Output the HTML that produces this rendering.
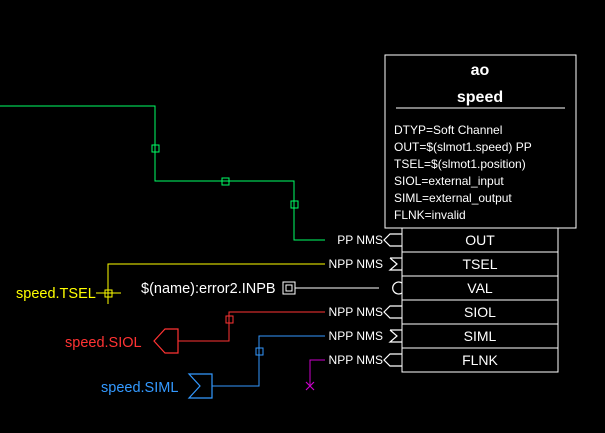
<!DOCTYPE html><html><head><style>body{margin:0;background:#000}svg{display:block}text{font-family:"Liberation Sans",sans-serif}</style></head><body>
<svg width="605" height="433" viewBox="0 0 605 433" xmlns="http://www.w3.org/2000/svg">
<rect width="605" height="433" fill="#000"/>
<g fill="none" stroke-width="1.2" shape-rendering="crispEdges">
<polyline stroke="#00ff66" points="0,106 155,106 155,181 294,181 294,240 325,240"/>
<rect stroke="#00ff66" x="152" y="145" width="7" height="7"/>
<rect stroke="#00ff66" x="222" y="178" width="7" height="7"/>
<rect stroke="#00ff66" x="291" y="201" width="7" height="7"/>
<polyline stroke="#ffff00" points="325,264 108,264 108,304"/>
<line stroke="#ffff00" x1="96" y1="293" x2="121" y2="293"/>
<rect stroke="#ffff00" x="105" y="290" width="7" height="7"/>
<line stroke="#fff" x1="295" y1="288" x2="379" y2="288"/>
<rect stroke="#fff" x="283" y="282" width="12" height="12"/>
<rect stroke="#fff" x="286" y="285" width="6" height="6"/>
<polyline stroke="#ff3333" points="325,312 229,312 229,341 178,341"/>
<rect stroke="#ff3333" x="226" y="316" width="7" height="7"/>
<polyline stroke="#3399ff" points="325,336 259,336 259,386 212,386"/>
<rect stroke="#3399ff" x="256" y="348" width="7" height="7"/>
<polyline stroke="#cc00cc" points="325,360 310,360 310,386"/>
<g stroke="#fff">
<rect x="385" y="55" width="191" height="173"/>
<line x1="396" y1="108" x2="565" y2="108"/>
<rect x="402" y="228" width="156" height="144"/>
<line x1="402" y1="252" x2="558" y2="252"/>
<line x1="402" y1="276" x2="558" y2="276"/>
<line x1="402" y1="300" x2="558" y2="300"/>
<line x1="402" y1="324" x2="558" y2="324"/>
<line x1="402" y1="348" x2="558" y2="348"/>
</g></g>
<g fill="none" stroke-width="1.2">
<polygon stroke="#ff3333" points="178,329 165,329 154,341 165,353 178,353"/>
<polygon stroke="#3399ff" points="189,374 212,374 212,398 189,398 200,386"/>
<path stroke="#cc00cc" d="M306,382 L314,390 M314,382 L306,390"/>
<g stroke="#fff">
<polyline points="402,234 390,234 384,240 390,246 402,246"/>
<polyline points="390,258 402,258"/>
<polyline points="390,258 397,264 390,270 402,270"/>
<path d="M402,283 A6,6 0 1 0 402,293"/>
<polyline points="402,306 390,306 384,312 390,318 402,318"/>
<polyline points="390,330 402,330"/>
<polyline points="390,330 397,336 390,342 402,342"/>
<polyline points="402,354 390,354 384,360 390,366 402,366"/>
</g></g>
<g fill="#fff">
<text x="480" y="75" text-anchor="middle" style="font-size:16px;font-weight:bold">ao</text>
<text x="480" y="102" text-anchor="middle" style="font-size:16px;font-weight:bold">speed</text>
<g style="font-size:12px"><text x="394" y="134">DTYP=Soft Channel</text>
<text x="394" y="151">OUT=$(slmot1.speed) PP</text>
<text x="394" y="168">TSEL=$(slmot1.position)</text>
<text x="394" y="185">SIOL=external_input</text>
<text x="394" y="202">SIML=external_output</text>
<text x="394" y="219">FLNK=invalid</text></g>
<g text-anchor="middle" style="font-size:14px"><text x="480" y="245">OUT</text><text x="480" y="269">TSEL</text><text x="480" y="293">VAL</text><text x="480" y="317">SIOL</text><text x="480" y="341">SIML</text><text x="480" y="365">FLNK</text></g>
<g text-anchor="end" style="font-size:12px"><text x="383" y="244">PP NMS</text><text x="383" y="268">NPP NMS</text><text x="383" y="316">NPP NMS</text><text x="383" y="340">NPP NMS</text><text x="383" y="364">NPP NMS</text></g>
<text x="141" y="293" style="font-size:14.5px">$(name):error2.INPB</text>
</g>
<text x="16" y="298" fill="#ffff00" style="font-size:14.5px">speed.TSEL</text>
<text x="65" y="347" fill="#ff3333" style="font-size:14.5px">speed.SIOL</text>
<text x="101" y="392" fill="#3399ff" style="font-size:14.5px">speed.SIML</text>
</svg></body></html>
